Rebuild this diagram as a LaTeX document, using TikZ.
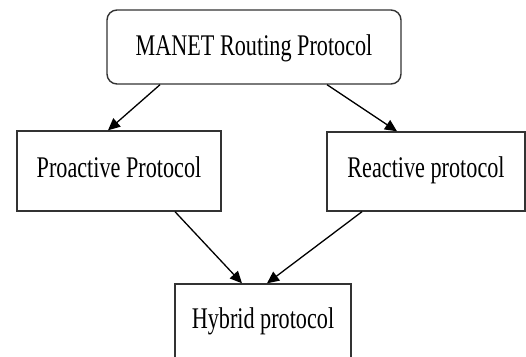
\documentclass[tikz,border=0pt]{standalone}
\usepackage{fontspec}
\setmainfont{Liberation Serif}
\usepackage{graphicx}
\usetikzlibrary{arrows.meta}
\newcommand{\narrow}[1]{\scalebox{0.74}[1]{#1}}
\begin{document}
\begin{tikzpicture}[x=1pt, y=-1pt, >={Triangle[length=12pt,width=11pt]},
    box/.style = {draw=black!80, line width=1.4pt, inner sep=0pt, font=\fontsize{30}{34}\selectfont},
    link/.style = {->, line width=1.3pt}]
    \useasboundingbox (0,0) rectangle (526,356);
    \node[box, rounded corners=10pt, minimum width=294pt, minimum height=74pt, text depth=4.5pt] (manet) at (254,47) {\narrow{MANET Routing Protocol}};
    \node[box, minimum width=204pt, minimum height=80pt, text depth=8.5pt] (proactive) at (119,171) {\narrow{Proactive Protocol}};
    \node[box, minimum width=198pt, minimum height=79pt, text depth=8.5pt] (reactive) at (426,171.5) {\narrow{Reactive protocol}};
    \node[box, minimum width=176pt, minimum height=80pt, text depth=12.5pt] (hybrid) at (263,324) {\narrow{Hybrid protocol}};

    \draw[link] ([xshift=-94pt]manet.south) -- ([xshift=-11pt]proactive.north);
    \draw[link] ([xshift=73pt]manet.south) -- ([xshift=-29pt]reactive.north);
    \draw[link] ([xshift=56pt]proactive.south) -- ([xshift=-21pt]hybrid.north);
    \draw[link] ([xshift=-64pt]reactive.south) -- ([xshift=4pt]hybrid.north);

\end{tikzpicture}
\end{document}
